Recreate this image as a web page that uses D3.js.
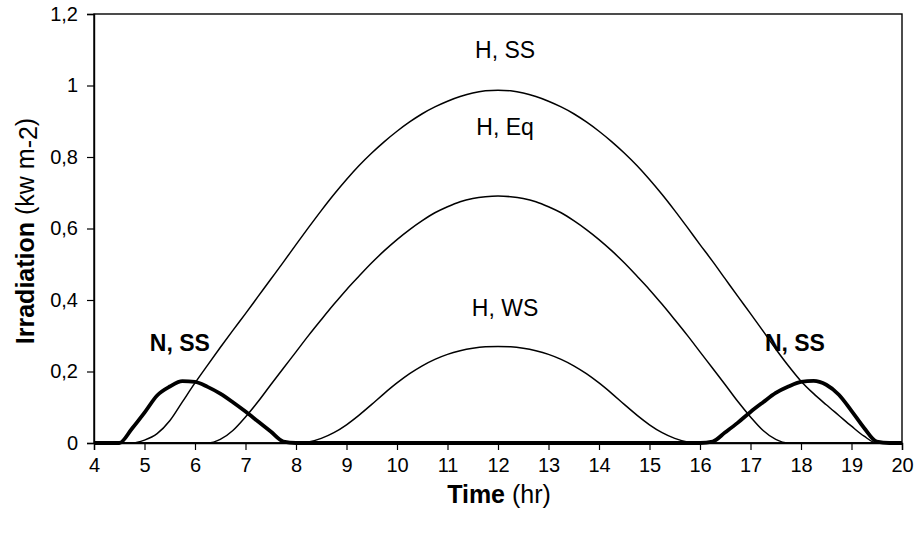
<!DOCTYPE html>
<html>
<head>
<meta charset="utf-8">
<script src="https://cdn.jsdelivr.net/npm/d3@7"></script>
<style>
  html, body { margin: 0; padding: 0; background: #fff; }
  svg { display: block; font-family: "Liberation Sans", Arial, Helvetica, sans-serif; }
</style>
</head>
<body>
<svg id="chart" width="918" height="534"></svg>
<script>
// Hour grid shared by all series (quarter-hour steps, 4 h to 20 h)
const hours = [
  4, 4.25, 4.5, 4.75, 5, 5.25, 5.5, 5.75, 6, 6.25, 6.5, 6.75, 7, 7.25, 7.5, 7.75,
  8, 8.25, 8.5, 8.75, 9, 9.25, 9.5, 9.75, 10, 10.25, 10.5, 10.75, 11, 11.25, 11.5, 11.75,
  12, 12.25, 12.5, 12.75, 13, 13.25, 13.5, 13.75, 14, 14.25, 14.5, 14.75, 15, 15.25, 15.5, 15.75,
  16, 16.25, 16.5, 16.75, 17, 17.25, 17.5, 17.75, 18, 18.25, 18.5, 18.75, 19, 19.25, 19.5, 19.75, 20
];

// Horizontal surface, summer solstice (kW m-2)
const hSS = [
  0, 0, 0, 0, 0.008, 0.026, 0.062, 0.115, 0.168, 0.218, 0.267, 0.315, 0.362, 0.41, 0.458, 0.506,
  0.555, 0.603, 0.65, 0.695, 0.737, 0.776, 0.811, 0.843, 0.872, 0.898, 0.921, 0.94, 0.956, 0.969, 0.979, 0.985,
  0.987, 0.985, 0.979, 0.969, 0.956, 0.94, 0.921, 0.898, 0.872, 0.843, 0.811, 0.776, 0.737, 0.695, 0.65, 0.603,
  0.555, 0.508, 0.459, 0.41, 0.362, 0.313, 0.263, 0.216, 0.173, 0.138, 0.107, 0.077, 0.047, 0.019, 0, 0, 0
];

// Horizontal surface, equinox
const hEq = [
  0, 0, 0, 0, 0, 0, 0, 0, 0, 0, 0.01, 0.035, 0.073, 0.116, 0.163, 0.209,
  0.255, 0.301, 0.345, 0.388, 0.429, 0.467, 0.504, 0.538, 0.569, 0.597, 0.622, 0.644, 0.661, 0.675, 0.684, 0.689,
  0.691, 0.689, 0.684, 0.675, 0.661, 0.644, 0.622, 0.597, 0.569, 0.538, 0.504, 0.467, 0.429, 0.388, 0.345, 0.301,
  0.255, 0.209, 0.163, 0.116, 0.073, 0.035, 0.01, 0, 0, 0, 0, 0, 0, 0, 0, 0, 0
];

// Horizontal surface, winter solstice
const hWS = [
  0, 0, 0, 0, 0, 0, 0, 0, 0, 0, 0, 0, 0, 0, 0, 0,
  0, 0.003, 0.013, 0.029, 0.051, 0.078, 0.108, 0.139, 0.168, 0.194, 0.216, 0.234, 0.248, 0.258, 0.265, 0.269,
  0.27, 0.269, 0.265, 0.258, 0.248, 0.234, 0.216, 0.194, 0.168, 0.139, 0.108, 0.078, 0.051, 0.029, 0.013, 0.003,
  0, 0, 0, 0, 0, 0, 0, 0, 0, 0, 0, 0, 0, 0, 0, 0, 0
];

// North-facing vertical surface, summer solstice
const nSS = [
  0, 0, 0, 0.04, 0.085, 0.133, 0.158, 0.173, 0.171, 0.157, 0.138, 0.114, 0.088, 0.06, 0.032, 0.004,
  0, 0, 0, 0, 0, 0, 0, 0, 0, 0, 0, 0, 0, 0, 0, 0,
  0, 0, 0, 0, 0, 0, 0, 0, 0, 0, 0, 0, 0, 0, 0, 0,
  0, 0.004, 0.03, 0.057, 0.087, 0.114, 0.14, 0.158, 0.171, 0.174, 0.163, 0.135, 0.09, 0.042, 0.004, 0, 0
];

const xTicks = [4, 5, 6, 7, 8, 9, 10, 11, 12, 13, 14, 15, 16, 17, 18, 19, 20];
const yTicks = [0, 0.2, 0.4, 0.6, 0.8, 1, 1.2];
const yTickLabels = ["0", "0,2", "0,4", "0,6", "0,8", "1", "1,2"];

const series = [
  { name: "H, SS", values: hSS, bold: false },
  { name: "H, Eq", values: hEq, bold: false },
  { name: "H, WS", values: hWS, bold: false },
  { name: "N, SS", values: nSS, bold: true }
];

const svg = d3.select("#chart");
const plotLeft = 94, plotRight = 902, plotTop = 14, plotBottom = 443;

const x = d3.scaleLinear().domain([4, 20]).range([plotLeft, plotRight]);
const y = d3.scaleLinear().domain([0, 1.2]).range([plotBottom, plotTop]);

// Plot frame
svg.append("rect")
  .attr("x", plotLeft).attr("y", plotTop)
  .attr("width", plotRight - plotLeft).attr("height", plotBottom - plotTop)
  .attr("fill", "none").attr("stroke", "#000").attr("stroke-width", 1.4);

// Axes
const xAxis = d3.axisBottom(x).tickValues(xTicks).tickSize(7).tickPadding(8).tickFormat(d3.format("d"));
const gx = svg.append("g").attr("transform", `translate(0,${plotBottom})`).call(xAxis);
gx.select(".domain").attr("stroke-width", 1.4);
gx.selectAll(".tick line").attr("stroke-width", 1.2);
gx.selectAll("text").attr("font-size", 20).attr("font-family", "Liberation Sans, Arial, sans-serif").attr("fill", "#000");

const yAxis = d3.axisLeft(y).tickValues(yTicks).tickSize(7).tickPadding(9)
  .tickFormat((d, i) => yTickLabels[i]);
const gy = svg.append("g").attr("transform", `translate(${plotLeft},0)`).call(yAxis);
gy.select(".domain").attr("stroke-width", 1.4);
gy.selectAll(".tick line").attr("stroke-width", 1.2);
gy.selectAll("text").attr("font-size", 20).attr("font-family", "Liberation Sans, Arial, sans-serif").attr("fill", "#000");

// Curves
const line = d3.line()
  .x((d, i) => x(hours[i]))
  .y(d => y(d))
  .curve(d3.curveMonotoneX);

svg.append("g").selectAll("path")
  .data(series)
  .join("path")
  .attr("d", s => line(s.values))
  .attr("fill", "none")
  .attr("stroke", "#000")
  .attr("stroke-width", s => s.bold ? 3.8 : 1.5)
  .attr("stroke-linejoin", "round");

// Curve labels
const labels = [
  { text: "H, SS", hx: 12.14, v: 1.077, bold: false },
  { text: "H, Eq", hx: 12.14, v: 0.8615, bold: false },
  { text: "H, WS", hx: 12.14, v: 0.355, bold: false },
  { text: "N, SS", hx: 5.70, v: 0.257, bold: true },
  { text: "N, SS", hx: 17.88, v: 0.257, bold: true }
];
svg.append("g").selectAll("text")
  .data(labels)
  .join("text")
  .attr("x", d => x(d.hx))
  .attr("y", d => y(d.v))
  .attr("text-anchor", "middle")
  .attr("font-size", 23)
  .attr("font-weight", d => d.bold ? "bold" : "normal")
  .text(d => d.text);

// Axis titles
const xt = svg.append("text")
  .attr("x", 499).attr("y", 503)
  .attr("text-anchor", "middle")
  .attr("font-size", 25);
xt.append("tspan").attr("font-weight", "bold").text("Time");
xt.append("tspan").text(" (hr)");

const yt = svg.append("text")
  .attr("transform", "translate(34,231) rotate(-90)")
  .attr("text-anchor", "middle")
  .attr("font-size", 25);
yt.append("tspan").attr("font-weight", "bold").text("Irradiation");
yt.append("tspan").text(" (kw m");
yt.append("tspan").attr("dy", 3).text("-2");
yt.append("tspan").attr("dy", -3).text(")");
</script>
</body>
</html>
